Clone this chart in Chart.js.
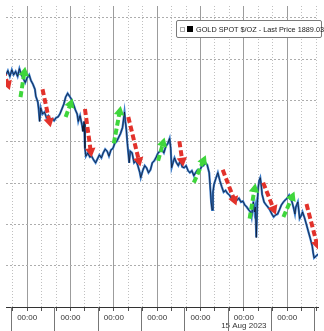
<!DOCTYPE html>
<html lang="en">
<head>
  <meta charset="UTF-8">
  <title>Gold spot</title>
  <script src="https://cdn.jsdelivr.net/npm/chart.js"></script>
  <style>
    body {
      margin: 0;
      padding: 0;
      background: #fff;
      font-family: 'Liberation Sans', Arial, sans-serif;
    }
    .wrap {
      position: relative;
      width: 324px;
      height: 331px;
      overflow: hidden;
    }
    .leyenda {
      position: absolute;
      left: 176px;
      top: 20px;
      width: 144px;
      height: 16px;
      border: 1px solid #7a7a7a;
      border-radius: 2px;
      background: #fff;
      display: flex;
      align-items: center;
      font-size: 7.3px;
      color: #222;
      white-space: nowrap;
    }
    .leyenda .ico {
      flex-shrink: 0;
      width: 3px;
      height: 3px;
      border: 1px solid #aaa;
      margin-left: 3px;
    }
    .leyenda .sq {
      flex-shrink: 0;
      width: 6px;
      height: 6px;
      background: #000;
      margin: 0 3px 0 2px;
    }
  </style>
</head>
<body>
  <div class="wrap">
    <canvas id="grafico" width="324" height="331"></canvas>
    <div class="leyenda"><span class="ico"></span><span class="sq"></span><span>GOLD SPOT $/OZ - Last Price 1889.03</span></div>
  </div>

  <script>
    // hours from 8 Aug 00:00 (trading time, weekend removed)
    const hours = [-11.7, -10.7, -9.6, -8.5, -7.5, -6.4, -5.3, -4.3, -3.2, -2.1, -1.1, 0, 1.1, 2.1, 3.2, 4.3, 4.8, 5.9, 6.4, 6.9,
      7.5, 8.5, 9.6, 10.7, 11.7, 12.8, 13.9, 14.9, 16, 17.1, 18.1, 19.2, 20.3, 21.3, 22.4, 23.5, 24.5, 25.6, 26.7, 27.7,
      28.3, 29.3, 30.4, 30.9, 31.5, 32, 32.5, 33.6, 34.7, 35.7, 36.8, 37.9, 38.9, 40, 41.1, 42.1, 43.2, 44.3, 45.3, 46.4,
      47.5, 48.5, 49.6, 50.7, 51.7, 52.8, 53.9, 54.4, 54.9, 55.5, 56, 56.5, 57.1, 58.1, 59.2, 60.3, 61.3, 62.4, 62.9, 64,
      65.1, 66.1, 67.2, 68.3, 69.3, 70.4, 71.5, 72.5, 73.6, 74.7, 75.7, 76.8, 77.9, 78.9, 79.5, 80, 81.1, 81.6, 82.7, 83.7,
      84.8, 85.9, 86.9, 88, 89.1, 90.1, 91.2, 92.3, 93.3, 94.4, 95.5, 96.5, 97.6, 98.7, 99.7, 100.8, 101.3, 101.9, 102.4, 102.9,
      103.5, 104.5, 105.6, 106.7, 107.7, 108.8, 109.9, 110.9, 112, 113.1, 114.1, 115.2, 116.3, 117.3, 118.4, 119.5, 120.5, 121.6, 122.7, 123.7,
      124.3, 124.8, 125.3, 125.9, 126.4, 126.9, 127.5, 128, 128.5, 129.1, 129.6, 130.1, 131.2, 132.3, 133.3, 134.4, 135.5, 136.5, 137.6, 138.7,
      139.7, 140.8, 141.9, 142.9, 144, 145.1, 146.1, 146.7, 147.7, 148.3, 148.8, 149.9, 150.4, 150.9, 152, 152.5, 153.6, 154.7, 155.7, 156.8,
      157.9, 158.4, 158.9, 160, 161.1];
    const prices = [1936.2, 1937.2, 1935.8, 1937.4, 1936.2, 1937.0, 1935.8, 1937.7, 1936.2, 1935.3, 1934.3, 1935.5, 1936.2, 1934.8, 1933.9, 1932.7, 1931.0, 1929.6, 1927.7, 1924.9,
      1928.2, 1926.7, 1927.2, 1925.8, 1926.3, 1925.3, 1925.6, 1925.1, 1925.8, 1926.0, 1926.7, 1927.9, 1929.1, 1930.8, 1931.7, 1931.0, 1930.3, 1929.1, 1927.7, 1926.7,
      1924.9, 1926.3, 1923.9, 1922.5, 1924.9, 1918.4, 1916.5, 1917.3, 1916.3, 1916.5, 1915.6, 1914.9, 1915.8, 1916.8, 1916.1, 1917.3, 1918.2, 1917.7, 1916.5, 1918.0,
      1918.4, 1919.6, 1920.1, 1921.1, 1922.0, 1923.4, 1927.2, 1924.9, 1923.0, 1919.6, 1917.3, 1914.9, 1917.7, 1917.3, 1914.9, 1915.4, 1914.2, 1912.5, 1911.3, 1913.0,
      1914.2, 1913.7, 1912.5, 1913.2, 1914.9, 1915.4, 1916.3, 1917.3, 1917.7, 1918.0, 1917.3, 1918.9, 1919.6, 1920.8, 1918.4, 1913.7, 1915.4, 1916.1, 1914.9, 1914.2,
      1915.4, 1913.9, 1913.7, 1914.2, 1913.0, 1912.5, 1913.0, 1911.8, 1912.5, 1913.2, 1913.0, 1913.9, 1914.2, 1914.9, 1914.4, 1912.5, 1909.4, 1905.4, 1903.5, 1907.8,
      1909.7, 1911.1, 1912.5, 1910.6, 1909.2, 1907.8, 1908.2, 1907.5, 1907.1, 1906.3, 1906.8, 1906.1, 1905.9, 1906.3, 1905.4, 1905.6, 1904.7, 1904.2, 1903.5, 1903.0,
      1901.8, 1904.0, 1905.4, 1903.0, 1904.2, 1896.8, 1905.4, 1909.0, 1910.6, 1911.3, 1909.7, 1907.3, 1905.4, 1904.7, 1904.2, 1903.5, 1902.5, 1901.8, 1902.3, 1902.5,
      1903.5, 1904.7, 1905.4, 1905.9, 1906.3, 1907.1, 1906.1, 1905.4, 1903.7, 1902.5, 1904.2, 1905.4, 1903.5, 1901.4, 1902.3, 1903.0, 1901.6, 1899.9, 1898.3, 1896.6,
      1894.7, 1893.1, 1891.9, 1892.3, 1892.8];

    // arrows: [startHour, startPrice, endHour, endPrice]
    const redArrows = [
      [-13.3, 1937.2, -10.7, 1933.9],
      [8.5, 1932.7, 12.3, 1924.9],
      [32, 1927.9, 35.2, 1917.7],
      [56, 1926.0, 61.9, 1915.4],
      [84.3, 1920.1, 85.9, 1915.4],
      [108.3, 1913.2, 114.7, 1905.9],
      [130.7, 1910.1, 136.5, 1903.7],
      [154.7, 1904.9, 160.5, 1895.2]
    ];
    const greenArrows = [
      [-3.7, 1930.8, -1.6, 1936.7],
      [21.3, 1926.0, 24.0, 1929.1],
      [48, 1919.6, 51.2, 1927.2],
      [72.5, 1915.4, 75.2, 1919.6],
      [92.3, 1910.1, 97.6, 1915.4],
      [123.2, 1901.4, 125.9, 1908.5],
      [141.9, 1901.8, 146.7, 1906.6]
    ];

    const priceTicks = [1880, 1890, 1900, 1910, 1920, 1930, 1940, 1950];
    const hourTicks = [-8, 0, 8, 16, 24, 32, 40, 48, 56, 64, 72, 80, 88, 96, 104, 112, 120, 128, 136, 144, 152, 160];
    const dateLabelHour = 120;
    const dateLabel = '15 Aug 2023';
    const sessionBreaks = [-9, 15, 39, 63, 87, 111, 135, 159];

    Chart.defaults.font.family = "'Liberation Sans', Arial, sans-serif";
    Chart.defaults.font.size = 8;

    function flecha(a, color) {
      return {
        data: [{ x: a[0], y: a[1] }, { x: a[2], y: a[3] }],
        borderColor: color,
        backgroundColor: color,
        borderWidth: 4,
        borderDash: [6, 3],
        borderCapStyle: 'butt',
        pointStyle: 'triangle',
        pointRadius: [0, 6],
        pointBorderWidth: 0,
        pointRotation: function(ctx) {
          const d = ctx.dataset.data;
          const sx = ctx.chart.scales.x, sy = ctx.chart.scales.y;
          const dx = sx.getPixelForValue(d[1].x) - sx.getPixelForValue(d[0].x);
          const dy = sy.getPixelForValue(d[1].y) - sy.getPixelForValue(d[0].y);
          return Math.atan2(dx, -dy) * 180 / Math.PI;
        }
      };
    }

    const serie = hours.map((h, i) => ({ x: h, y: prices[i] }));

    // separators under the axis
    const separadores = {
      id: 'separadores',
      afterDraw(chart) {
        const ctx = chart.ctx;
        const sx = chart.scales.x;
        ctx.save();
        ctx.strokeStyle = '#777';
        ctx.lineWidth = 1;
        sessionBreaks.forEach(h => {
          const px = Math.round(sx.getPixelForValue(h)) + 0.5;
          ctx.beginPath();
          ctx.moveTo(px, chart.chartArea.bottom);
          ctx.lineTo(px, chart.height);
          ctx.stroke();
        });
        ctx.restore();
      }
    };

    new Chart(document.getElementById('grafico').getContext('2d'), {
      type: 'line',
      data: {
        datasets: [
          ...redArrows.map(a => flecha(a, '#e2322b')),
          ...greenArrows.map(a => flecha(a, '#3fd63c')),
          {
            data: serie,
            borderColor: '#0a0f22',
            borderWidth: 0.7,
            pointRadius: 0,
            tension: 0
          },
          {
            data: serie,
            borderColor: '#3a7ccb',
            borderWidth: 2.2,
            pointRadius: 0,
            tension: 0
          }
        ]
      },
      options: {
        responsive: false,
        animation: false,
        events: [],
        layout: { padding: 0 },
        plugins: {
          legend: { display: false },
          tooltip: { enabled: false }
        },
        scales: {
          x: {
            type: 'linear',
            min: -11.73,
            max: 161.07,
            afterBuildTicks: s => { s.ticks = hourTicks.map(v => ({ value: v })); },
            afterFit: s => { s.height = 24; },
            grid: {
              color: c => (c.tick && c.tick.value % 24 === 0) ? '#9c9c9c' : '#c0c0c0',
              lineWidth: 1,
              tickLength: 4,
              tickColor: '#555'
            },
            border: {
              display: true,
              color: '#333',
              width: 1,
              dash: c => (c.tick && c.tick.value % 24 !== 0) ? [1, 2] : []
            },
            ticks: {
              autoSkip: false,
              maxRotation: 0,
              minRotation: 0,
              padding: 3,
              color: '#333',
              font: { size: 8, lineHeight: 1.0 },
              callback: v => {
                if (v % 24 !== 0) return '';
                return v === dateLabelHour ? ['00:00', dateLabel] : '00:00';
              }
            }
          },
          y: {
            min: 1880,
            max: 1952.85,
            afterBuildTicks: s => { s.ticks = priceTicks.map(v => ({ value: v })); },
            grid: { color: '#adadad', drawTicks: false },
            border: { display: false, dash: [2, 2] },
            ticks: { display: false }
          }
        }
      },
      plugins: [separadores]
    });
  </script>
</body>
</html>
